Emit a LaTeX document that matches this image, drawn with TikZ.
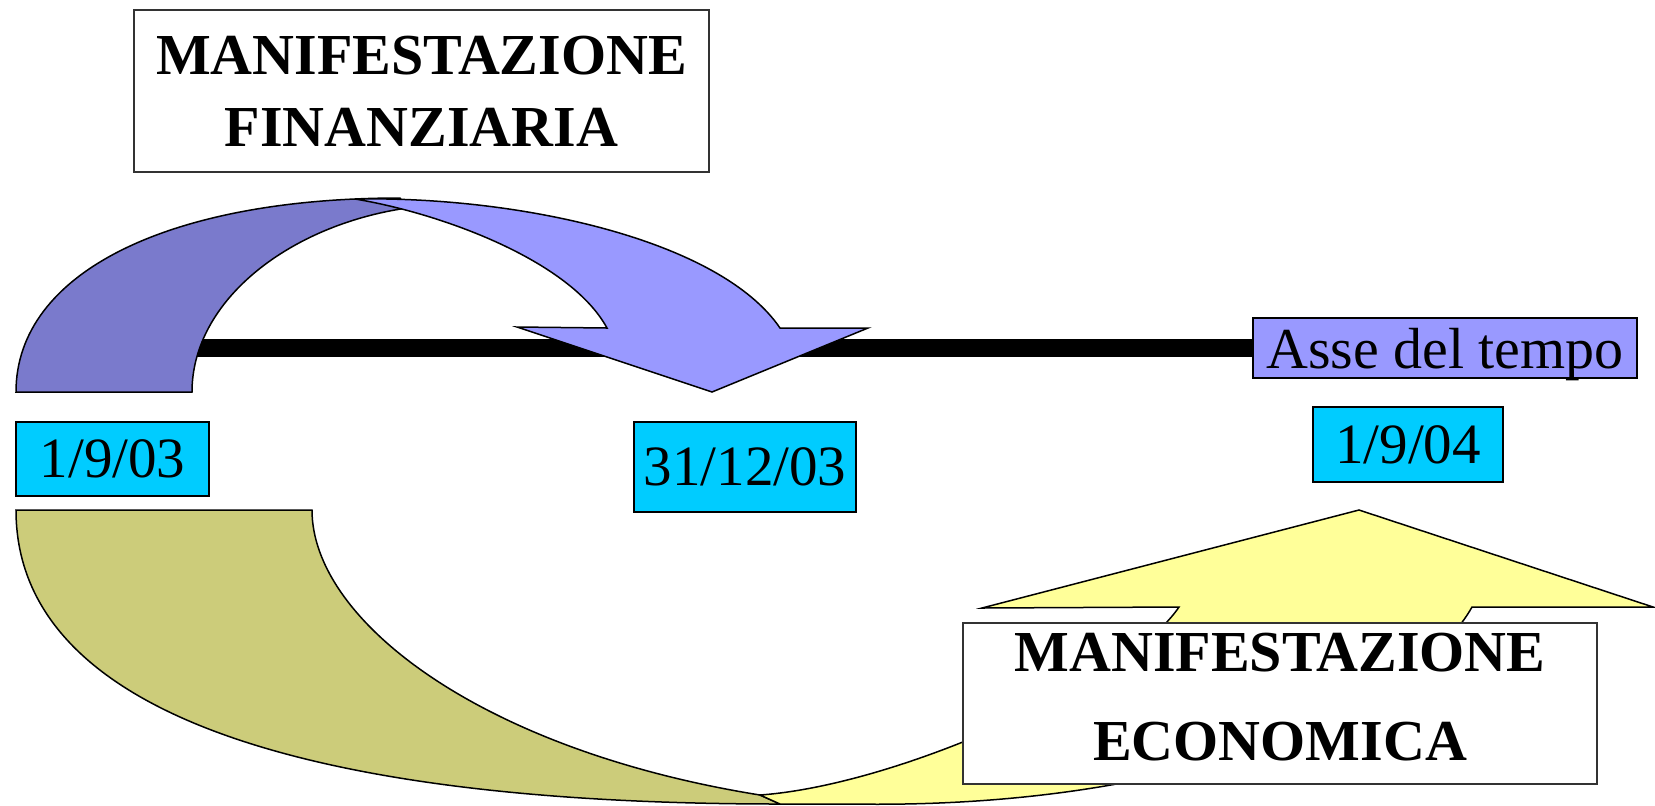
\documentclass[tikz,border=0pt]{standalone}
\usepackage{fontspec}
\setmainfont{Liberation Serif}
\definecolor{darkviolet}{HTML}{7A7ACC}
\definecolor{lightviolet}{HTML}{9999FF}
\definecolor{olivebrown}{HTML}{CCCC7A}
\definecolor{paleyellow}{HTML}{FFFF99}
\definecolor{datecyan}{HTML}{00CCFF}
\tikzset{
  band/.style={draw=black, line width=0.75pt, line join=miter},
  datebox/.style={draw=black, line width=1pt, fill=datecyan, inner sep=0pt,
    font=\fontsize{28.5}{34}\selectfont},
  titlebox/.style={draw=black!80, line width=1pt, fill=white, inner sep=0pt},
  titletext/.style={font=\fontsize{29}{36}\selectfont\bfseries, align=center, inner sep=0pt},
  axisbar/.style={line width=9pt, draw=black}
}
\begin{document}
\begin{tikzpicture}[x=0.5pt, y=-0.5pt]
\useasboundingbox (0,0) rectangle (1655,805);

% axis label
\node[draw=black, line width=1pt, fill=lightviolet, inner sep=0pt,
      minimum width=192pt, minimum height=30pt, text depth=0pt,
      font=\fontsize{29}{34}\selectfont] (asse) at (1445,348) {Asse del tempo};
\coordinate (barstart) at (195,348);
\draw[axisbar] (barstart) -- (asse.west);

% financial curved arrow (back band, then front band)
\draw[band, fill=darkviolet] (16,392) .. controls (16,272) and (170,198) .. (400,198)
  -- (407,208) .. controls (290,225) and (192,300) .. (192,392) -- cycle;
\draw[band, fill=lightviolet] (355,199) .. controls (520,196) and (720,240) .. (780,328)
  -- (868,328) -- (712,392) -- (517,327) -- (607,328)
  .. controls (570,260) and (440,213) .. (355,199) -- cycle;

% dates
\node[datebox, minimum width=96.5pt, minimum height=37pt] (d1) at (112.5,459) {1/9/03};
\node[datebox, minimum width=111pt, minimum height=45pt] (d2) at (745,467) {31/12/03};
\node[datebox, minimum width=95pt, minimum height=37.5pt] (d3) at (1408,444.5) {1/9/04};

% top title
\node[titlebox, titletext, minimum width=287.5pt, minimum height=81pt] (fin) at (421.5,91)
  {MANIFESTAZIONE\\FINANZIARIA};

% economic curved arrow (back band, then front band)
\draw[band, fill=olivebrown] (16,510) -- (312,510) .. controls (312,620) and (480,750) .. (760,795)
  -- (780,804) .. controls (270,804) and (16,700) .. (16,510) -- cycle;
\draw[band, fill=paleyellow] (760,795) .. controls (900,785) and (1130,680) .. (1179,607)
  -- (982,608) -- (1359,510) -- (1653,607) -- (1472,607)
  .. controls (1420,700) and (1200,810) .. (850,804) -- (780,804) -- cycle;

% bottom title
\node[titlebox, minimum width=317pt, minimum height=80.5pt] (eco) at (1280,703.5) {};
\node[titletext, font=\fontsize{29}{44.5}\selectfont\bfseries] (ecotext) at (1280,697.5)
  {MANIFESTAZIONE\\ECONOMICA};
\end{tikzpicture}
\end{document}
